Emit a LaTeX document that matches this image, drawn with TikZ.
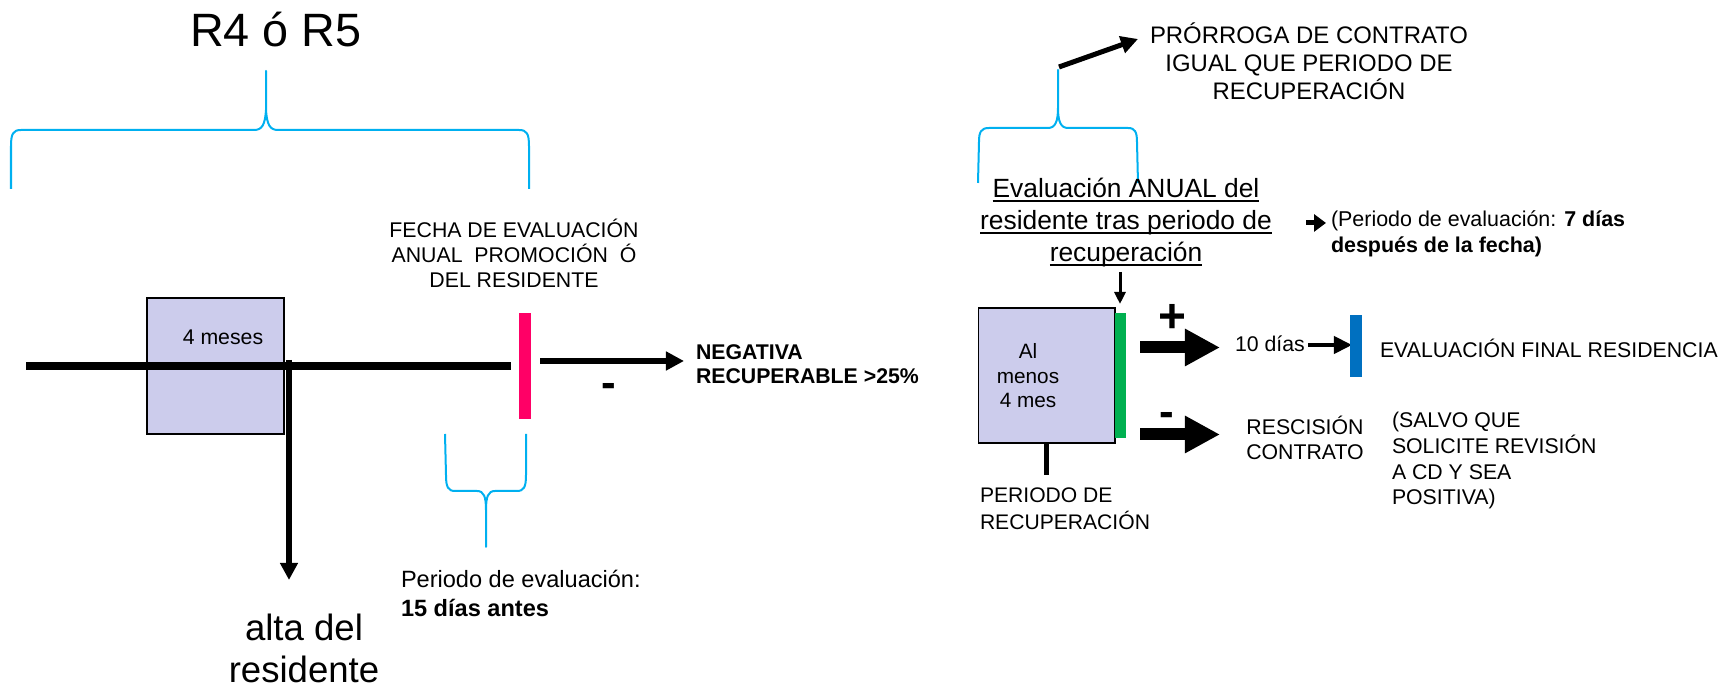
\documentclass[tikz,border=0pt]{standalone}
\usepackage{fontspec}
\setmainfont{Liberation Sans}
\usetikzlibrary{arrows.meta}
\definecolor{lav}{RGB}{204,204,236}
\definecolor{bcyan}{RGB}{0,176,240}
\definecolor{pinkc}{RGB}{255,0,102}
\definecolor{greenc}{RGB}{0,176,80}
\definecolor{bluec}{RGB}{0,112,192}
\newcommand\ulx[1]{\setbox0\hbox{#1}\rlap{\rule[-1pt]{\wd0}{0.35pt}}\box0}
\begin{document}
\begin{tikzpicture}[x=0.01cm,y=-0.01cm,
  txt/.style={inner sep=0,outer sep=0},
  sm/.style={txt,font=\fontsize{6.05}{7.15}\selectfont},
  brace/.style={draw=bcyan,line width=0.02cm,line join=round},
  bar/.style={inner sep=0,outer sep=0},
  boxn/.style={draw,line width=0.015cm,fill=lav,inner sep=0},
  arrM/.style={line width=0.05cm,-{Triangle[length=0.17cm,width=0.17cm]}},
  arrB/.style={line width=0.12cm,-{Triangle[length=0.35cm,width=0.35cm]}},
  sign/.style={txt,font=\fontsize{12.5}{14}\selectfont\bfseries}
]
\useasboundingbox (0,0) rectangle (1735,689);

% ---------- left part ----------
\node[txt,font=\fontsize{13.3}{16}\selectfont,anchor=base] (r45) at (276,47) {R4 ó R5};
\draw[brace] (11,189) -- (11,146) .. controls (11,134) and (13,130) .. (21,130) -- (254,130)
  .. controls (262,130) and (265,125) .. (266,110) -- (266,71) -- (266,110)
  .. controls (267,125) and (270,130) .. (278,130) -- (519,130)
  .. controls (527,130) and (529,134) .. (529,146) -- (529,189);

\node[boxn,minimum width=1.37cm,minimum height=1.36cm] (boxL) at (215.5,366) {};
\node[sm,anchor=base] (meses) at (223,345) {4 meses};
\coordinate (tl1) at (26,366);
\coordinate (tl2) at (511,366);
\draw[line width=0.083cm] (tl1) -- (tl2);
\coordinate (alta1) at (289,360);
\coordinate (alta2) at (289,580);
\draw[arrM] (alta1) -- (alta2);

\node[bar,fill=pinkc,minimum width=0.12cm,minimum height=1.06cm] (pink) at (525,366) {};
\node[sm,anchor=base,align=center] (fecha) at (514,288) {FECHA DE EVALUACIÓN\\ANUAL\ \ PROMOCIÓN\ \ Ó\\DEL RESIDENTE};
\coordinate (neg1) at (540,361);
\coordinate (neg2) at (684,361);
\draw[line width=0.06cm,-{Triangle[length=0.18cm,width=0.18cm]}] (neg1) -- (neg2);
\node[sm,font=\fontsize{6.05}{7.1}\selectfont\bfseries,anchor=base west,align=left] (neg) at (696,384) {NEGATIVA\\RECUPERABLE >25\%};
\node[sign,anchor=base] (minus1) at (609,398) {-};

\draw[brace] (445,434) -- (446,475) .. controls (446,487) and (448,491) .. (455,491) -- (477,491)
  .. controls (484,491) and (486,497) .. (486,510) -- (486,547) -- (486,510)
  .. controls (486,497) and (488,491) .. (495,491) -- (517,491)
  .. controls (524,491) and (526,487) .. (526,475) -- (526,434);
\node[txt,font=\fontsize{6.7}{8.25}\selectfont,anchor=base west,align=left] (per15) at (401,617) {Periodo de evaluación:\\\textbf{15 días antes}};
\node[txt,font=\fontsize{10.4}{12.2}\selectfont,anchor=base,align=center] (alta) at (304,683) {alta del\\residente};

% ---------- right part ----------
\draw[brace] (978,183) -- (979,142) .. controls (979,132) and (981,128) .. (989,128) -- (1048,128)
  .. controls (1055,128) and (1058,122) .. (1058,108) -- (1058,70) -- (1058,108)
  .. controls (1058,122) and (1061,128) .. (1068,128) -- (1128,128)
  .. controls (1135,128) and (1137,132) .. (1137,142) -- (1138,183);
\coordinate (pr1) at (1059,67);
\coordinate (pr2) at (1138,39);
\draw[arrM] (pr1) -- (pr2);
\node[txt,font=\fontsize{6.8}{8.1}\selectfont,anchor=base,align=center] (prorroga) at (1309,100) {PRÓRROGA DE CONTRATO\\IGUAL QUE PERIODO DE\\RECUPERACIÓN};

\node[txt,font=\fontsize{7.5}{9.1}\selectfont,anchor=base,align=center] (evan) at (1126,262) {\ulx{Evaluación ANUAL del}\\\ulx{residente tras periodo de}\\\ulx{recuperación}};
\coordinate (d1) at (1306,223);
\coordinate (d2) at (1326,223);
\draw[line width=0.05cm,-{Triangle[length=0.12cm,width=0.17cm]}] (d1) -- (d2);
\node[sm,font=\fontsize{6.1}{7.55}\selectfont,anchor=base west,align=left] (siete) at (1331,253) {(Periodo de evaluación: \textbf{7 días}\\\textbf{después de la fecha)}};

\coordinate (dn1) at (1120,272);
\coordinate (dn2) at (1120,304);
\draw[line width=0.03cm,-{Triangle[length=0.12cm,width=0.11cm]}] (dn1) -- (dn2);

\node[boxn,minimum width=1.365cm,minimum height=1.35cm] (boxR) at (1046.75,375.5) {};
\node[bar,fill=greenc,minimum width=0.11cm,minimum height=1.25cm] (green) at (1120.5,375.5) {};
\node[sm,font=\fontsize{5.9}{7.1}\selectfont,anchor=base,align=center] (almenos) at (1028,408) {Al\\menos\\4 mes};
\coordinate (pl1) at (1046.6,443);
\coordinate (pl2) at (1046.6,475);
\draw[line width=0.045cm] (pl1) -- (pl2);
\node[sm,font=\fontsize{6.0}{7.7}\selectfont,anchor=base west,align=left] (perrec) at (980,530) {PERIODO DE\\RECUPERACIÓN};

\coordinate (ap1) at (1140,347.5);
\coordinate (ap2) at (1220,347.5);
\draw[arrB] (ap1) -- (ap2);
\node[txt,font=\fontsize{13.6}{15}\selectfont\bfseries,anchor=base] (plus) at (1172,333) {+};
\coordinate (am1) at (1140,434.5);
\coordinate (am2) at (1220,434.5);
\draw[arrB] (am1) -- (am2);
\node[sign,anchor=base] (minus2) at (1167,427) {-};

\node[sm,anchor=base west] (diez) at (1235,352) {10 días};
\coordinate (t1) at (1308,345);
\coordinate (t2) at (1352,345);
\draw[line width=0.04cm,-{Triangle[length=0.18cm,width=0.17cm]}] (t1) -- (t2);
\node[bar,fill=bluec,minimum width=0.115cm,minimum height=0.62cm] (blue) at (1356,346) {};
\node[sm,anchor=base west] (final) at (1380,358) {EVALUACIÓN FINAL RESIDENCIA};

\node[sm,anchor=base,align=center] (resc) at (1305,460) {RESCISIÓN\\CONTRATO};
\node[sm,font=\fontsize{6.05}{7.3}\selectfont,anchor=base west,align=left] (salvo) at (1392,505) {(SALVO QUE\\SOLICITE REVISIÓN\\A CD Y SEA\\POSITIVA)};
\end{tikzpicture}
\end{document}
